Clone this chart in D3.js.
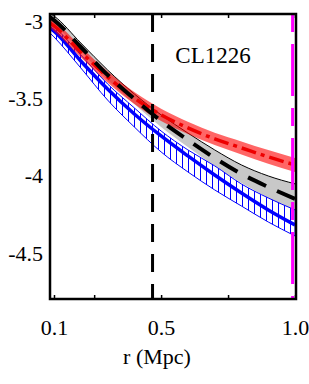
<!DOCTYPE html>
<html>
<head>
<meta charset="utf-8">
<script src="https://cdn.jsdelivr.net/npm/d3@7"></script>
<style>
  body { margin: 0; background: #fff; }
  svg { display: block; }
  .axis text { font-family: "Liberation Serif", "Times New Roman", serif; font-size: 22px; fill: #000; }
  .axis path { display: none; }
  .axis line { stroke: #000; stroke-width: 1.5; }
</style>
</head>
<body>
<svg id="main"></svg>
<script>
// radius (Mpc) sample points
var radius = [0.085, 0.1, 0.2, 0.3, 0.4, 0.5, 0.6, 0.7, 0.8, 0.9, 1.0];

// red band + dash-dot centre line
var redMid = [-3.013, -3.032, -3.200, -3.361, -3.497, -3.606, -3.690, -3.761, -3.819, -3.877, -3.929];
var redErr = [0.030, 0.032, 0.034, 0.036, 0.038, 0.040, 0.040, 0.040, 0.042, 0.044, 0.045];

// grey band + black dashed centre line
var greyMid = [-2.975, -2.994, -3.168, -3.348, -3.503, -3.645, -3.768, -3.884, -3.987, -4.071, -4.148];
var greyErr = [0.024, 0.026, 0.026, 0.032, 0.032, 0.039, 0.045, 0.052, 0.058, 0.071, 0.097];

// blue hatched band + solid centre line
var blueMid = [-3.045, -3.065, -3.258, -3.439, -3.600, -3.742, -3.871, -3.994, -4.110, -4.219, -4.316];
var blueHi = [-3.019, -3.039, -3.219, -3.406, -3.561, -3.710, -3.832, -3.935, -4.052, -4.142, -4.219];
var blueLo = [-3.077, -3.103, -3.303, -3.510, -3.684, -3.845, -3.974, -4.090, -4.194, -4.297, -4.387];

// vertical markers
var markBlack = 0.468;
var markMagenta = 0.991;

var xTicks = [0.1, 0.25, 0.5, 0.75, 1.0];
var xLabels = [0.1, 0.5, 1.0];
var yTicks = [-3, -3.5, -4, -4.5];
var label = "CL1226";
var xTitle = "r (Mpc)";

var w = 309;
var h = 384;
var pLeft = 50, pRight = 296, pTop = 14, pBottom = 299;

var svg = d3.select("#main")
  .attr("width", w)
  .attr("height", h);

var x = d3.scaleLinear()
  .domain([0.0851, 1.0037])
  .range([pLeft, pRight]);

var y = d3.scaleLinear()
  .domain([-2.955, -4.794])
  .range([pTop, pBottom]);

var defs = svg.append("defs");
defs.append("clipPath")
  .attr("id", "plotclip")
  .append("rect")
  .attr("x", pLeft).attr("y", pTop)
  .attr("width", pRight - pLeft).attr("height", pBottom - pTop);

var hatch = defs.append("pattern")
  .attr("id", "vhatch")
  .attr("patternUnits", "userSpaceOnUse")
  .attr("x", 2)
  .attr("width", 6)
  .attr("height", 6);
hatch.append("rect").attr("width", 6).attr("height", 6).attr("fill", "#fff");
hatch.append("line")
  .attr("x1", 0.5).attr("x2", 0.5).attr("y1", 0).attr("y2", 6)
  .attr("stroke", "#0000ff").attr("stroke-width", 1);

var idx = d3.range(radius.length);

function band(lo, hi) {
  return d3.area()
    .x(function(i) { return x(radius[i]); })
    .y0(function(i) { return y(lo(i)); })
    .y1(function(i) { return y(hi(i)); })
    .curve(d3.curveMonotoneX)(idx);
}
function line(f) {
  return d3.line()
    .x(function(i) { return x(radius[i]); })
    .y(function(i) { return y(f(i)); })
    .curve(d3.curveMonotoneX)(idx);
}

var g = svg.append("g").attr("clip-path", "url(#plotclip)");

// grey band
g.append("path")
  .attr("d", band(function(i) { return greyMid[i] - greyErr[i]; }, function(i) { return greyMid[i] + greyErr[i]; }))
  .attr("fill", "#c8c8c8");
g.append("path")
  .attr("d", line(function(i) { return greyMid[i] + greyErr[i]; }))
  .attr("fill", "none")
  .attr("stroke", "#000")
  .attr("stroke-width", 1);

// blue hatched band
g.append("path")
  .attr("d", band(function(i) { return blueLo[i]; }, function(i) { return blueHi[i]; }))
  .attr("fill", "url(#vhatch)")
  .attr("stroke", "#0000ff")
  .attr("stroke-width", 1);
g.append("path")
  .attr("d", line(function(i) { return blueMid[i]; }))
  .attr("fill", "none")
  .attr("stroke", "#0000ff")
  .attr("stroke-width", 3.5);

// red band
g.append("path")
  .attr("d", band(function(i) { return redMid[i] - redErr[i]; }, function(i) { return redMid[i] + redErr[i]; }))
  .attr("fill", "#ff0000")
  .attr("fill-opacity", 0.6);
g.append("path")
  .attr("d", line(function(i) { return redMid[i]; }))
  .attr("fill", "none")
  .attr("stroke", "#ee0000")
  .attr("stroke-width", 3.5)
  .attr("stroke-dasharray", "15,5,4,5");

// black dashed line
g.append("path")
  .attr("d", line(function(i) { return greyMid[i]; }))
  .attr("fill", "none")
  .attr("stroke", "#000")
  .attr("stroke-width", 4)
  .attr("stroke-dasharray", "20,12");

// vertical markers
g.append("line")
  .attr("x1", x(markBlack)).attr("x2", x(markBlack))
  .attr("y1", y.range()[0]).attr("y2", y.range()[1])
  .attr("stroke", "#000")
  .attr("stroke-width", 3)
  .attr("stroke-dasharray", "18,12");
g.append("line")
  .attr("x1", x(markMagenta)).attr("x2", x(markMagenta))
  .attr("y1", y.range()[0]).attr("y2", y.range()[1])
  .attr("stroke", "#ff00ff")
  .attr("stroke-width", 3)
  .attr("stroke-dasharray", "18,12,52,12");

// axes
svg.append("g")
  .attr("class", "axis")
  .attr("transform", "translate(0," + pBottom + ")")
  .call(d3.axisBottom(x)
    .tickValues(xTicks)
    .tickSize(-4)
    .tickPadding(20)
    .tickFormat(function(d) { return xLabels.indexOf(d) >= 0 ? d3.format(".1f")(d) : ""; }));

svg.append("g")
  .attr("class", "axis")
  .attr("transform", "translate(0," + pTop + ")")
  .call(d3.axisTop(x)
    .tickValues(xTicks)
    .tickSize(-4)
    .tickFormat(""));

svg.append("g")
  .attr("class", "axis")
  .attr("transform", "translate(" + pLeft + ",0)")
  .call(d3.axisLeft(y)
    .tickValues(yTicks)
    .tickSize(0)
    .tickPadding(7)
    .tickFormat(function(d) { return String(d); }));

// frame
svg.append("rect")
  .attr("x", pLeft).attr("y", pTop)
  .attr("width", pRight - pLeft).attr("height", pBottom - pTop)
  .attr("fill", "none")
  .attr("stroke", "#000")
  .attr("stroke-width", 2.5);

svg.append("text")
  .attr("x", 213).attr("y", 63)
  .attr("text-anchor", "middle")
  .style("font-family", "'Liberation Serif', 'Times New Roman', serif")
  .style("font-size", "23px")
  .text(label);

svg.append("text")
  .attr("x", 157).attr("y", 364)
  .attr("text-anchor", "middle")
  .style("font-family", "'Liberation Serif', 'Times New Roman', serif")
  .style("font-size", "22px")
  .text(xTitle);
</script>
</body>
</html>
